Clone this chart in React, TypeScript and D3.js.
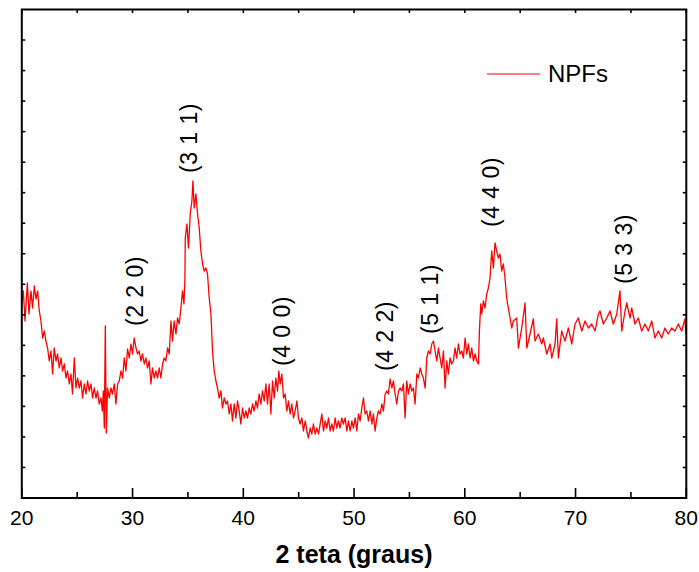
import * as d3 from "d3";
import { useEffect, useRef } from "react";

// 2θ (degrees)
const twoTheta = [
  20.0, 20.14, 20.29, 20.5, 20.65, 20.83, 20.97, 21.13, 21.28, 21.43, 21.58, 21.73, 21.88, 22.03, 22.18, 22.33,
  22.48, 22.64, 22.78, 22.93, 23.09, 23.23, 23.38, 23.54, 23.68, 23.84, 23.99, 24.13, 24.29, 24.44, 24.58, 24.74,
  24.89, 25.04, 25.19, 25.34, 25.49, 25.64, 25.79, 25.94, 26.09, 26.25, 26.39, 26.54, 26.7, 26.84, 26.99, 27.15,
  27.27, 27.36, 27.45, 27.54, 27.63, 27.74, 27.9, 28.05, 28.19, 28.35, 28.5, 28.65, 28.8, 28.95, 29.1, 29.25,
  29.4, 29.55, 29.7, 29.86, 30.0, 30.15, 30.31, 30.45, 30.6, 30.76, 30.9, 31.06, 31.21, 31.35, 31.51, 31.66,
  31.8, 31.96, 32.11, 32.26, 32.41, 32.56, 32.71, 32.86, 33.01, 33.16, 33.31, 33.47, 33.61, 33.76, 33.92, 34.06,
  34.21, 34.37, 34.51, 34.64, 34.73,
  34.76, 34.91, 35.05, 35.21, 35.36, 35.45, 35.57, 35.72, 35.87, 36.02, 36.17, 36.32, 36.47, 36.62, 36.77, 36.92,
  37.08, 37.22, 37.37, 37.53, 37.67, 37.82, 37.98, 38.12, 38.28, 38.43, 38.57, 38.73, 38.88, 39.02, 39.18, 39.33,
  39.48, 39.63, 39.78, 39.93, 40.08, 40.23, 40.38, 40.53, 40.69, 40.83, 40.98, 41.14, 41.28, 41.43, 41.59, 41.73,
  41.89, 42.04, 42.18, 42.34, 42.49, 42.64, 42.79, 42.94, 43.09, 43.21, 43.33, 43.48, 43.63, 43.78, 43.93, 44.08,
  44.23, 44.38, 44.53, 44.68, 44.84, 44.98, 45.13, 45.29, 45.43, 45.59, 45.74, 45.88, 46.04, 46.19, 46.33, 46.49,
  46.64, 46.79, 46.94, 47.09, 47.24, 47.39, 47.54, 47.69, 47.84, 47.99, 48.14, 48.29, 48.44, 48.59, 48.74, 48.89,
  49.04, 49.2, 49.35, 49.49,
  49.65, 49.8, 49.95, 50.1, 50.25, 50.4, 50.55, 50.7, 50.85, 51.0, 51.15, 51.3, 51.45, 51.61, 51.75, 51.9,
  52.06, 52.2, 52.35, 52.51, 52.65, 52.81, 52.96, 53.1, 53.26, 53.41, 53.56, 53.71, 53.86, 54.01, 54.16, 54.31,
  54.46, 54.61, 54.76, 54.91, 55.06, 55.22, 55.36, 55.51, 55.67, 55.81, 55.97, 56.12, 56.26, 56.42, 56.57, 56.71,
  56.87, 57.02, 57.17, 57.32, 57.47, 57.62, 57.77, 57.92, 58.07, 58.22, 58.37, 58.52, 58.67, 58.82, 58.97, 59.12,
  59.27, 59.42, 59.57, 59.73, 59.87, 60.03, 60.18, 60.32, 60.48, 60.63, 60.78, 60.93, 61.08, 61.23, 61.32, 61.44,
  61.53, 61.68, 61.83, 61.98, 62.13, 62.28, 62.43, 62.58, 62.73, 62.88, 63.03, 63.18, 63.33, 63.48, 63.63, 63.78,
  63.93, 64.09, 64.24, 64.38,
  64.69, 64.84, 65.14, 65.44, 65.6, 65.89, 66.19, 66.34, 66.64, 66.95, 67.09, 67.4, 67.7, 67.85, 68.15, 68.3,
  68.45, 68.75, 69.05, 69.35, 69.66, 69.95, 70.25, 70.56, 70.86, 71.16, 71.46, 71.76, 72.06, 72.21, 72.51, 72.82,
  73.11, 73.41, 73.72, 74.01, 74.17, 74.47, 74.62, 74.92, 75.07, 75.37, 75.67, 75.97, 76.27, 76.57, 76.88, 77.17,
  77.47, 77.78, 78.07, 78.37, 78.68, 78.98, 79.28, 79.58, 79.88, 79.97,
];

// intensity (a.u.)
const intensity = [
  194, 207, 177, 215, 184, 207, 190, 212, 199, 207, 187, 177, 160, 167, 157, 150,
  137, 147, 124, 150, 137, 144, 130, 140, 127, 134, 120, 127, 114, 124, 104, 140,
  110, 120, 110, 117, 100, 114, 104, 117, 107, 114, 100, 110, 100, 107, 94, 100,
  87, 107, 70, 172, 65, 110, 100, 110, 104, 114, 94, 114, 117, 127, 120, 140,
  127, 149, 140, 154, 144, 160, 150, 144, 147, 137, 144, 134, 140, 130, 137, 114,
  130, 120, 127, 120, 130, 120, 134, 140, 137, 150, 144, 177, 157, 177, 164, 180,
  174, 190, 207, 194, 220,
  260, 274, 250, 284, 297, 317, 290, 304, 284, 270, 247, 234, 227, 230, 224, 200,
  184, 147, 127, 117, 110, 100, 107, 90, 100, 94, 97, 84, 94, 77, 94, 80,
  97, 87, 74, 90, 80, 87, 80, 90, 84, 94, 87, 97, 90, 104, 94, 107,
  97, 114, 94, 114, 84, 117, 100, 120, 107, 127, 114, 124, 100, 104, 87, 97,
  84, 94, 80, 87, 97, 80, 74, 80, 67, 77, 67, 60, 70, 64, 74, 64,
  70, 64, 74, 84, 67, 77, 70, 80, 67, 74, 67, 80, 70, 77, 70, 80,
  74, 80, 67, 77,
  67, 77, 70, 80, 67, 84, 77, 90, 100, 84, 87, 77, 87, 74, 84, 67,
  80, 87, 84, 94, 87, 104, 107, 104, 119, 110, 117, 104, 94, 107, 110, 107,
  114, 80, 117, 104, 114, 107, 110, 94, 124, 120, 130, 124, 120, 110, 140, 147,
  144, 154, 157, 147, 137, 150, 140, 130, 147, 110, 137, 124, 140, 134, 137, 150,
  140, 154, 144, 147, 140, 160, 144, 154, 140, 150, 137, 144, 137, 134, 167, 194,
  184, 197, 190, 204, 210, 220, 247, 230, 255, 247, 240, 244, 227, 234, 220, 200,
  190, 180, 170, 177,
  180, 150, 170, 195, 150, 164, 179, 157, 164, 154, 160, 144, 154, 140, 154, 179,
  140, 167, 157, 170, 154, 174, 180, 167, 177, 170, 174, 167, 184, 187, 174, 180,
  187, 174, 184, 207, 167, 187, 195, 180, 190, 174, 180, 167, 174, 167, 177, 160,
  167, 160, 170, 164, 170, 167, 174, 167, 179, 164,
];

const seriesName = "NPFs";
const xTickLabels = [20, 30, 40, 50, 60, 70, 80];
const xMinorTicks = [25, 35, 45, 55, 65, 75];
const peakLabels = ["(2 2 0)", "(3 1 1)", "(4 0 0)", "(4 2 2)", "(5 1 1)", "(4 4 0)", "(5 3 3)"];
const peakAngles = [30.95, 35.84, 44.23, 53.55, 57.6, 63.06, 75.12];
const peakLabelBase = [172, 325, 132, 127, 164, 271, 214];

const FONT = "'Liberation Sans', Arial, Helvetica, sans-serif";

export default function App() {
  const ref = useRef<SVGSVGElement>(null);

  useEffect(() => {
    const svg = d3.select(ref.current);
    svg.selectAll("*").remove();

    const left = 21.8,
      right = 686.3,
      top = 9.5,
      bottom = 498;

    const x = d3.scaleLinear().domain([20, 80]).range([left, right]);
    const y = d3.scaleLinear().domain([0, 488.5]).range([bottom, top]);

    const data = twoTheta.map((t, i) => ({ t, v: intensity[i] }));

    // pattern
    const line = d3
      .line<{ t: number; v: number }>()
      .x((d) => x(d.t))
      .y((d) => y(d.v));

    svg
      .append("path")
      .datum(data)
      .attr("d", line)
      .attr("fill", "none")
      .attr("stroke", "#ff0000")
      .attr("stroke-width", 1.3)
      .attr("stroke-linejoin", "round");

    // frame
    svg
      .append("rect")
      .attr("x", left)
      .attr("y", top)
      .attr("width", right - left)
      .attr("height", bottom - top)
      .attr("fill", "none")
      .attr("stroke", "#000")
      .attr("stroke-width", 2);

    // bottom ticks (inward)
    const g = svg.append("g").attr("stroke", "#000").attr("stroke-width", 1.6);
    xTickLabels.forEach((t) => {
      g.append("line").attr("x1", x(t)).attr("x2", x(t)).attr("y1", bottom).attr("y2", bottom - 10);
    });
    xMinorTicks.forEach((t) => {
      g.append("line").attr("x1", x(t)).attr("x2", x(t)).attr("y1", bottom).attr("y2", bottom - 6);
    });
    // top ticks
    [...xTickLabels, ...xMinorTicks].forEach((t) => {
      g.append("line").attr("x1", x(t)).attr("x2", x(t)).attr("y1", top).attr("y2", top + 3.5);
    });
    // left / right ticks
    const yTicks = d3.range(1, 16).map((i) => (i * 488.5) / 16);
    yTicks.forEach((v) => {
      g.append("line").attr("x1", left).attr("x2", left + 3.5).attr("y1", y(v)).attr("y2", y(v));
      g.append("line").attr("x1", right).attr("x2", right - 3.5).attr("y1", y(v)).attr("y2", y(v));
    });

    // tick labels
    svg
      .append("g")
      .selectAll("text")
      .data(xTickLabels)
      .join("text")
      .attr("x", (d) => x(d))
      .attr("y", 525)
      .attr("text-anchor", "middle")
      .attr("font-family", FONT)
      .attr("font-size", 21)
      .attr("fill", "#000")
      .text((d) => String(d));

    // axis title
    svg
      .append("text")
      .attr("x", 354)
      .attr("y", 563)
      .attr("text-anchor", "middle")
      .attr("font-family", FONT)
      .attr("font-size", 25)
      .attr("font-weight", "bold")
      .attr("fill", "#000")
      .text("2 teta (graus)");

    // peak labels
    svg
      .append("g")
      .selectAll("text")
      .data(peakLabels)
      .join("text")
      .attr("transform", (d, i) => `translate(${x(peakAngles[i])},${y(peakLabelBase[i])}) rotate(-90)`)
      .attr("font-family", FONT)
      .attr("font-size", 23)
      .attr("letter-spacing", 0.5)
      .attr("fill", "#000")
      .text((d) => d);

    // legend
    svg
      .append("line")
      .attr("x1", 487)
      .attr("x2", 540)
      .attr("y1", 74)
      .attr("y2", 74)
      .attr("stroke", "#ff0000")
      .attr("stroke-width", 1);
    svg
      .append("text")
      .attr("x", 548)
      .attr("y", 82)
      .attr("font-family", FONT)
      .attr("font-size", 24)
      .attr("fill", "#000")
      .text(seriesName);
  }, []);

  return (
    <svg
      ref={ref}
      width={699}
      height={572}
      style={{ position: "absolute", left: 0, top: 0, background: "#fff" }}
    />
  );
}
